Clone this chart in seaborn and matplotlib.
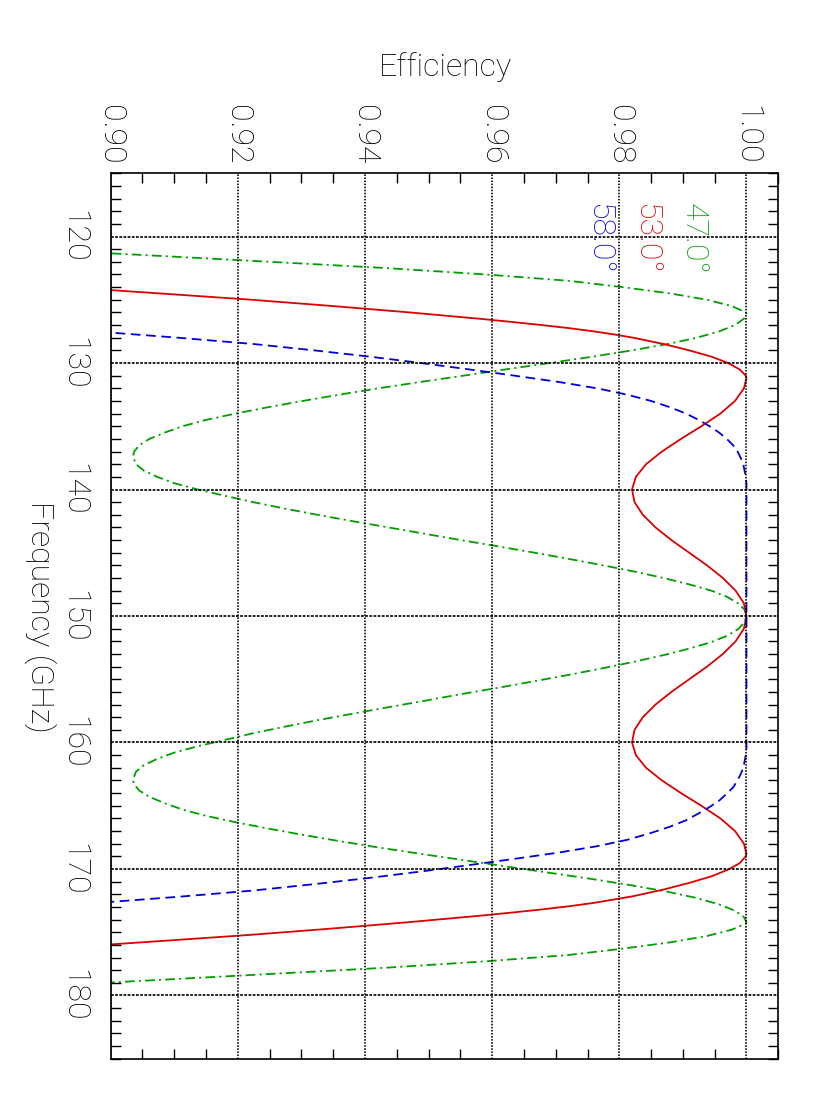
import matplotlib
matplotlib.use("Agg")
import matplotlib.pyplot as plt
import matplotlib.font_manager as fm
import seaborn as sns
from matplotlib.ticker import FixedLocator, FormatStrFormatter

# ---------------- data ----------------
labels = ["47.0°", "53.0°", "58.0°"]

freq_47 = [121.0, 121.5, 122.0, 122.5, 123.0, 123.5, 124.0, 124.5, 125.0, 125.5, 126.0, 126.1,
           126.5, 127.0, 127.5, 128.0, 128.5, 129.0, 129.5, 130.0, 130.5, 131.0, 131.5, 132.0,
           132.5, 133.0, 133.5, 134.0, 134.5, 135.0, 135.5, 136.0, 136.5, 137.0, 137.4, 138.0,
           138.5, 139.0, 139.5, 140.0, 140.5, 141.0, 141.5, 142.0, 142.5, 143.0, 143.5, 144.0,
           144.5, 145.0, 145.5, 146.0, 146.5, 147.0, 147.5, 148.0, 148.5, 149.0, 149.5, 150.0,
           150.5, 151.03, 151.55, 152.06, 152.58, 153.09, 153.6, 154.12, 154.64, 155.15, 155.67,
           156.18, 156.7, 157.21, 157.73, 158.24, 158.76, 159.27, 159.79, 160.3, 160.8, 161.3,
           161.8, 162.3, 162.95, 163.3, 163.8, 164.3, 164.8, 165.3, 165.8, 166.3, 166.8, 167.3,
           167.8, 168.3, 168.8, 169.3, 169.8, 170.3, 170.8, 171.3, 171.8, 172.3, 172.8, 173.3,
           173.8, 174.2, 174.3, 174.8, 175.3, 175.8, 176.3, 176.8, 177.3, 177.8, 178.3, 178.8,
           179.3]
eff_47 = [0.8875, 0.9065, 0.9251, 0.9435, 0.9590, 0.9720, 0.9805, 0.9880, 0.9938, 0.9977, 0.9999, 1.0000,
          0.9996, 0.9982, 0.9957, 0.9922, 0.9876, 0.9820, 0.9758, 0.9690, 0.9622, 0.9555, 0.9487, 0.9421,
          0.9360, 0.9302, 0.9247, 0.9196, 0.9150, 0.9113, 0.9085, 0.9061, 0.9045, 0.9037, 0.9035, 0.9040,
          0.9052, 0.9073, 0.9100, 0.9137, 0.9180, 0.9224, 0.9273, 0.9325, 0.9380, 0.9437, 0.9494, 0.9551,
          0.9610, 0.9667, 0.9722, 0.9775, 0.9825, 0.9870, 0.9910, 0.9945, 0.9970, 0.9987, 0.9997, 1.0000,
          0.9997, 0.9987, 0.9970, 0.9945, 0.9910, 0.9870, 0.9825, 0.9775, 0.9722, 0.9667, 0.9610,
          0.9551, 0.9494, 0.9437, 0.9380, 0.9325, 0.9273, 0.9224, 0.9180, 0.9137, 0.9100, 0.9073,
          0.9052, 0.9040, 0.9035, 0.9037, 0.9045, 0.9061, 0.9085, 0.9113, 0.9150, 0.9196, 0.9247, 0.9302,
          0.9360, 0.9421, 0.9487, 0.9555, 0.9622, 0.9690, 0.9758, 0.9820, 0.9876, 0.9922, 0.9957, 0.9982,
          0.9996, 1.0000, 0.9999, 0.9977, 0.9938, 0.9880, 0.9805, 0.9720, 0.9590, 0.9435, 0.9251, 0.9065,
          0.8875]

freq_53 = [123.5, 124.0, 124.5, 125.0, 125.5, 126.0, 126.5, 126.75, 127.0, 127.25, 127.5, 127.75,
           128.0, 128.5, 129.0, 129.5, 130.0, 130.5, 131.0, 131.2, 132.0, 133.0, 134.0, 135.0,
           136.0, 137.0, 138.0, 139.0, 140.0, 141.0, 142.0, 143.0, 144.0, 145.0, 146.0, 147.0,
           148.0, 149.0, 150.0, 151.0, 152.0, 153.0, 154.0, 155.0, 156.0, 157.0, 158.0, 159.0,
           160.0, 161.0, 162.0, 163.0, 164.0, 165.0, 166.0, 167.0, 168.0, 168.8, 169.0, 169.55,
           170.05, 170.58, 171.1, 171.62, 172.15, 172.4, 172.68, 172.94, 173.2, 173.45, 173.7,
           174.2, 174.7, 175.2, 175.7, 176.2, 176.7]
eff_53 = [0.8780, 0.8930, 0.9078, 0.9222, 0.9350, 0.9470, 0.9580, 0.9630, 0.9678, 0.9722, 0.9760, 0.9793,
          0.9822, 0.9870, 0.9910, 0.9945, 0.9971, 0.9989, 0.9999, 1.0000, 0.9996, 0.9982, 0.9959, 0.9929,
          0.9897, 0.9867, 0.9842, 0.9826, 0.9820, 0.9824, 0.9837, 0.9857, 0.9882, 0.9910, 0.9938, 0.9963,
          0.9983, 0.9996, 1.0000, 0.9996, 0.9983, 0.9963, 0.9938, 0.9910, 0.9882, 0.9857, 0.9837, 0.9824,
          0.9820, 0.9826, 0.9842, 0.9867, 0.9897, 0.9929, 0.9959, 0.9982, 0.9996, 1.0000, 0.9999, 0.9989,
          0.9971, 0.9945, 0.9910, 0.9870, 0.9822, 0.9793, 0.9760, 0.9722, 0.9678, 0.9630, 0.9580,
          0.9470, 0.9350, 0.9222, 0.9078, 0.8930, 0.8780]

freq_58 = [127.0, 127.5, 128.0, 128.5, 129.0, 129.5, 130.0, 130.5, 131.0, 131.5, 132.0, 132.5,
           133.0, 133.5, 134.0, 134.5, 135.0, 135.5, 136.0, 136.5, 137.0, 137.5, 138.0, 138.5,
           139.0, 139.5, 140.0, 145.0, 150.0, 155.0, 160.0, 160.5, 161.0, 161.5, 162.0, 162.5,
           163.0, 163.55, 164.05, 164.6, 165.1, 165.6, 166.15, 166.65, 167.15, 167.7, 168.2, 168.7,
           169.2, 169.7, 170.2, 170.7, 171.2, 171.7, 172.2, 172.7, 173.2]
eff_58 = [0.8840, 0.8975, 0.9106, 0.9225, 0.9320, 0.9408, 0.9488, 0.9563, 0.9635, 0.9705, 0.9765, 0.9812,
          0.9850, 0.9880, 0.9905, 0.9925, 0.9942, 0.9957, 0.9969, 0.9979, 0.9986, 0.9991, 0.9995, 0.9997,
          0.9999, 1.0000, 1.0000, 1.0000, 1.0000, 1.0000, 1.0000, 1.0000, 0.9999, 0.9997, 0.9995, 0.9991,
          0.9986, 0.9979, 0.9969, 0.9957, 0.9942, 0.9925, 0.9905, 0.9880, 0.9850, 0.9812, 0.9765, 0.9705,
          0.9635, 0.9563, 0.9488, 0.9408, 0.9320, 0.9225, 0.9106, 0.8975, 0.8840]

eff_ticks = [0.90, 0.92, 0.94, 0.96, 0.98, 1.00]
freq_ticks = [120, 130, 140, 150, 160, 170, 180]

# ---------------- style ----------------
sns.set_theme(style="white")


def _w(v):
    if isinstance(v, str):
        return fm.weight_dict.get(v, 400)
    return v


font_family = ["Liberation Sans", "DejaVu Sans"]
font_weight = "normal"
for fam in ["Roboto", "Inter", "Open Sans", "Lato"]:
    if any(f.name == fam and _w(f.weight) == 300 and f.style == "normal"
           for f in fm.fontManager.ttflist):
        font_family = [fam, "DejaVu Sans"]
        font_weight = "light"
        break

plt.rcParams["font.family"] = font_family
plt.rcParams["font.weight"] = font_weight
plt.rcParams["text.color"] = "black"
plt.rcParams["axes.labelcolor"] = "black"
plt.rcParams["lines.scale_dashes"] = False

GREEN = "#009f00"
RED = "#dc0000"
BLUE = "#0000dc"
FS = 23

fig = plt.figure(figsize=(8.32, 11.10), dpi=100)
ax = fig.add_axes([0.1330, 0.0462, 0.8024, 0.7977])

series = [
    (freq_47, eff_47, GREEN, (0, (7.0, 3.0, 1.5, 3.0))),
    (freq_53, eff_53, RED, "-"),
    (freq_58, eff_58, BLUE, (0, (7.0, 4.0))),
]
for fr, ef, col, ls in series:
    sns.lineplot(x=ef, y=fr, sort=False, estimator=None, orient="y",
                 color=col, linestyle=ls, linewidth=1.3, ax=ax)

ax.set_xlim(0.90, 1.005)
ax.set_ylim(185, 115)

ax.xaxis.set_major_locator(FixedLocator(eff_ticks))
ax.xaxis.set_minor_locator(FixedLocator([0.90 + 0.005 * i for i in range(22)]))
ax.yaxis.set_major_locator(FixedLocator(freq_ticks))
ax.yaxis.set_minor_locator(FixedLocator(list(range(115, 186))))
ax.xaxis.set_major_formatter(FormatStrFormatter("%.2f"))

ax.tick_params(axis="x", which="both", top=True, bottom=True, labeltop=True,
               labelbottom=False, direction="in")
ax.tick_params(axis="y", which="both", left=True, right=True, labelleft=True,
               labelright=False, direction="in")
ax.tick_params(which="major", length=0, labelsize=FS, labelrotation=-90, colors="black")
ax.tick_params(axis="x", which="major", pad=6)
ax.tick_params(axis="y", which="major", pad=16)
ax.tick_params(which="minor", length=7.2, width=1.0, color="black")
for t in ax.get_yticklabels():
    t.set_va("center")

ax.grid(True, which="major", axis="x", color="black", linewidth=1.2, linestyle=(0, (1.1, 1.1)))
ax.grid(True, which="major", axis="y", color="black", linewidth=1.2, linestyle=(0, (2.0, 1.0)))
ax.set_axisbelow(False)

for s in ax.spines.values():
    s.set_color("black")
    s.set_linewidth(1.2)

ax.set_xlabel("")
ax.set_ylabel("")

fig.text(445 / 832, 1 - 67 / 1110, "Efficiency", ha="center", va="center", fontsize=FS)
fig.text(40 / 832, 1 - 617 / 1110, "Frequency (GHz)", ha="center", va="center",
         rotation=-90, fontsize=FS)

label_x = [0.9916, 0.9841, 0.9767]
label_colors = [GREEN, RED, BLUE]
for lx, txt, col in zip(label_x, labels, label_colors):
    ax.text(lx, 117.35, txt, color=col, rotation=-90, ha="center", va="top", fontsize=FS)

fig.savefig("out.png", dpi=100)
